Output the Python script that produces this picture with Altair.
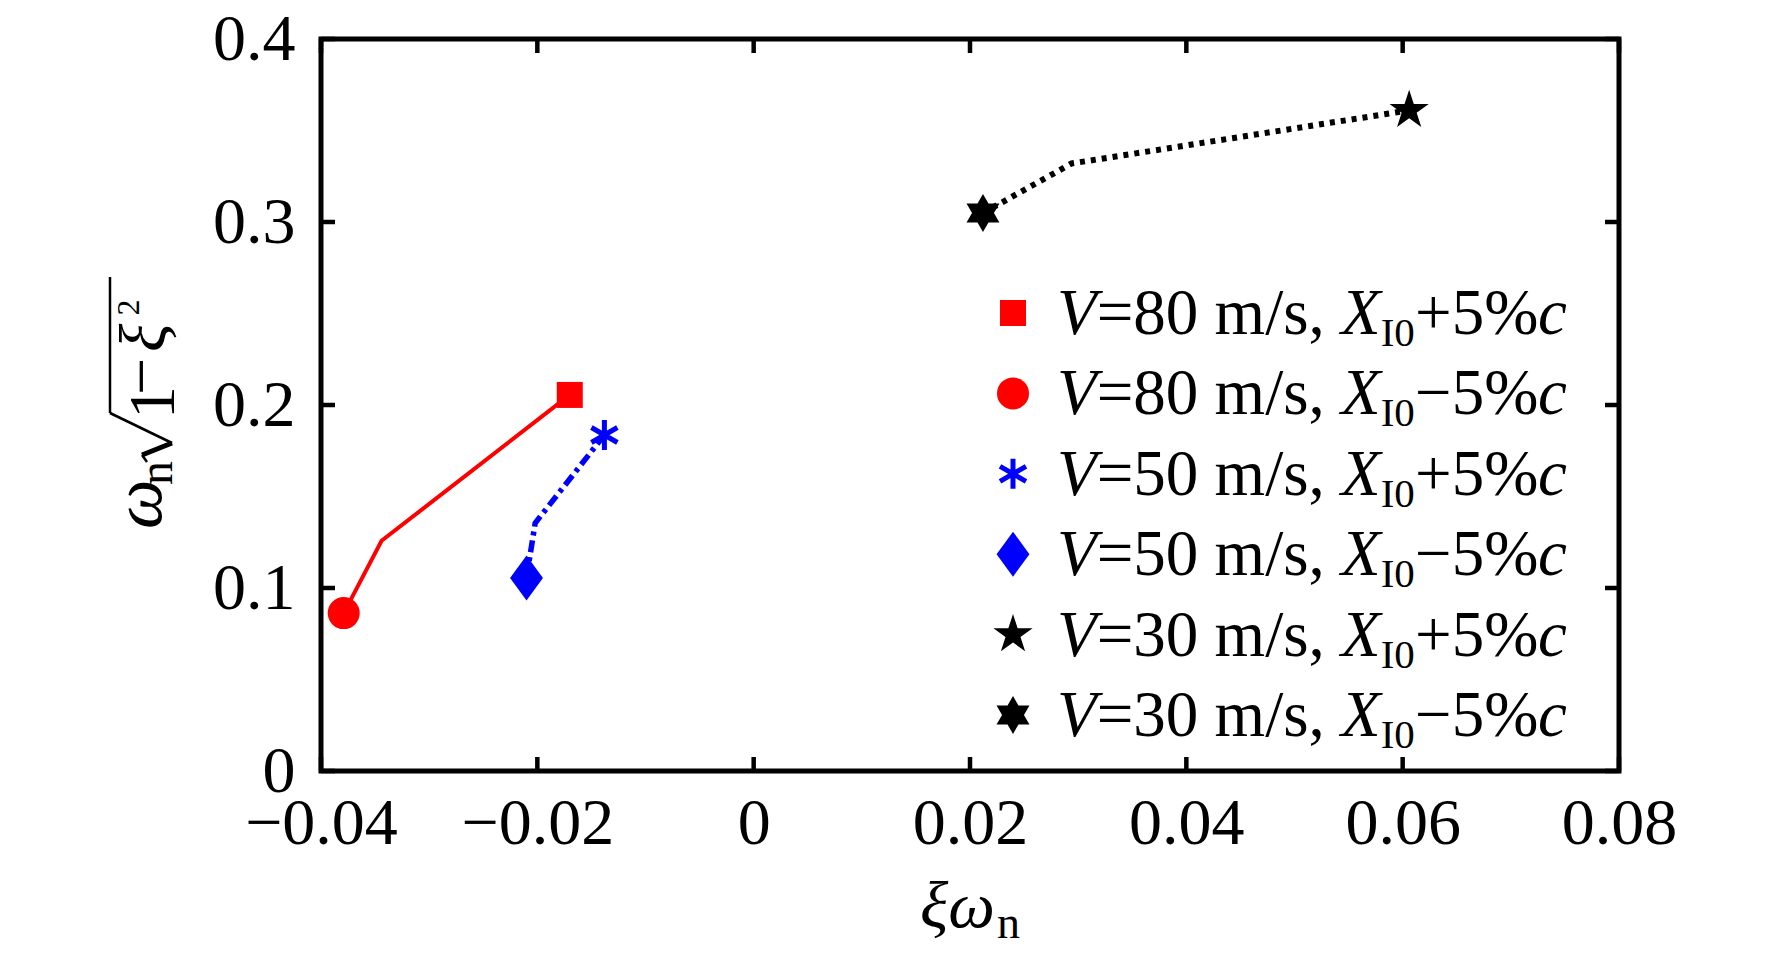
import math
import altair as alt
import pandas as pd

# ---------------- data ----------------
red_x = [-0.0379, -0.0344, -0.0170]     # V=80 m/s : X_I0-5%c  ->  X_I0+5%c
red_y = [0.0863, 0.1258, 0.2055]
blue_x = [-0.0210, -0.0202, -0.0138]    # V=50 m/s
blue_y = [0.1055, 0.1355, 0.1836]
black_x = [0.0212, 0.0294, 0.0606]      # V=30 m/s
black_y = [0.3049, 0.3320, 0.3610]

x_ticks = [-0.04, -0.02, 0, 0.02, 0.04, 0.06, 0.08]
y_ticks = [0, 0.1, 0.2, 0.3, 0.4]

legend_speed = ["80", "80", "50", "50", "30", "30"]
legend_sign = ["+", "\u2212", "+", "\u2212", "+", "\u2212"]

# ---------------- layout / style ----------------
W, H = 1298, 732
FONT = "Liberation Serif"
RED, BLUE, BLACK = "#ff0000", "#0000ff", "#000000"


def star_path(n, r_in):
    pts = []
    for k in range(2 * n):
        a = math.radians(-90 + k * 180.0 / n)
        r = 1.0 if k % 2 == 0 else r_in
        pts.append(f"{r * math.cos(a):.4f},{r * math.sin(a):.4f}")
    return "M" + "L".join(pts) + "Z"


PENT = star_path(5, 0.382)
HEXA = star_path(6, 0.577)
ASTER = "M0,-1L0,1M-0.866,-0.5L0.866,0.5M-0.866,0.5L0.866,-0.5"
DIAM = "M0,-1L0.73,0L0,1L-0.73,0Z"

xs = alt.Scale(domain=[-0.04, 0.08], nice=False, zero=False)
ys = alt.Scale(domain=[0, 0.4], nice=False, zero=False)
common_axis = dict(title=None, ticks=False, tickSize=0, domain=False, grid=False,
                   labelFont=FONT, labelFontSize=66, labelColor="black",
                   labelFlush=False, labelOverlap=False)
xaxis = alt.Axis(values=x_ticks, format=".2~f", labelPadding=20, **common_axis)
yaxis = alt.Axis(values=y_ticks, format=".1~f", labelPadding=26, **common_axis)


def X(f):
    return alt.X(f, type="quantitative", scale=xs, axis=xaxis)


def Y(f):
    return alt.Y(f, type="quantitative", scale=ys, axis=yaxis)


layers = []

# ---------------- lines ----------------
series = [
    (red_x, red_y, RED, None, 4),
    (blue_x, blue_y, BLUE, [12, 5, 4, 5], 5.5),
    (black_x, black_y, BLACK, [5, 6], 6),
]
for sx, sy, col, dash, sw in series:
    df = pd.DataFrame({"x": sx, "y": sy, "i": list(range(len(sx)))})
    kw = dict(color=col, strokeWidth=sw)
    if dash:
        kw["strokeDash"] = dash
    layers.append(alt.Chart(df).mark_line(**kw).encode(x=X("x"), y=Y("y"), order="i:Q"))

# ---------------- markers (endpoints of each series) ----------------
markers = [
    (red_x[-1], red_y[-1], "square", 676, RED, True),
    (red_x[0], red_y[0], "circle", 1024, RED, True),
    (blue_x[-1], blue_y[-1], ASTER, 900, BLUE, False),
    (blue_x[0], blue_y[0], DIAM, 2025, BLUE, True),
    (black_x[-1], black_y[-1], PENT, 1700, BLACK, True),
    (black_x[0], black_y[0], HEXA, 1444, BLACK, True),
]
for mx, my, shp, sz, col, fill in markers:
    df = pd.DataFrame({"x": [mx], "y": [my]})
    kw = dict(shape=shp, size=sz, color=col, filled=fill, opacity=1)
    if not fill:
        kw["strokeWidth"] = 5
    layers.append(alt.Chart(df).mark_point(**kw).encode(x=X("x"), y=Y("y")))

# ---------------- inward ticks on all four sides ----------------
TL = 14
xt = pd.DataFrame({"v": x_ticks})
yt = pd.DataFrame({"v": y_ticks})
layers.append(alt.Chart(xt).mark_rule(color="black", strokeWidth=4.5).encode(
    x=X("v"), y=alt.value(H - TL), y2=alt.value(H)))
layers.append(alt.Chart(xt).mark_rule(color="black", strokeWidth=4.5).encode(
    x=X("v"), y=alt.value(0), y2=alt.value(TL)))
layers.append(alt.Chart(yt).mark_rule(color="black", strokeWidth=4.5).encode(
    y=Y("v"), x=alt.value(0), x2=alt.value(TL)))
layers.append(alt.Chart(yt).mark_rule(color="black", strokeWidth=4.5).encode(
    y=Y("v"), x=alt.value(W - TL), x2=alt.value(W)))

dummy = pd.DataFrame({"d": [0]})


def txt(s, x, y, size=65, italic=False, angle=None):
    kw = dict(text=s, font=FONT, fontSize=size, align="left", baseline="alphabetic",
              color="black", fontStyle="italic" if italic else "normal")
    if angle is not None:
        kw["angle"] = angle
    return alt.Chart(dummy).mark_text(**kw).encode(x=alt.value(x), y=alt.value(y))


def seg(x1, y1, x2, y2, sw):
    return alt.Chart(dummy).mark_rule(color="black", strokeWidth=sw).encode(
        x=alt.value(x1), y=alt.value(y1), x2=alt.value(x2), y2=alt.value(y2))


# ---------------- legend ----------------
for i in range(6):
    yc = 274 + 80.4 * i
    _, _, shp, sz, col, fill = markers[i]
    kw = dict(shape=shp, size=sz, color=col, filled=fill, opacity=1)
    if not fill:
        kw["strokeWidth"] = 5
    layers.append(alt.Chart(dummy).mark_point(**kw).encode(x=alt.value(692), y=alt.value(yc)))
    yb = yc + 21
    layers.append(txt("V", 736, yb, italic=True))
    layers.append(txt(f"={legend_speed[i]} m/s, ", 775.7, yb))
    layers.append(txt("X", 1020, yb, italic=True))
    layers.append(txt("I0", 1059.7, yb + 12, size=41))
    layers.append(txt(f"{legend_sign[i]}5%", 1094, yb))
    layers.append(txt("c", 1217, yb, italic=True))

# ---------------- x title: ξω_n ----------------
layers.append(txt("\u03be\u03c9", 599, 888, size=66, italic=True))
layers.append(txt("n", 676, 899, size=46))

# ---------------- y title: ω_n sqrt(1 − ξ^2) (rotated) ----------------
layers.append(txt("\u03c9", -160, 490, size=70, italic=True, angle=270))
layers.append(txt("n", -149, 446, size=48, angle=270))
layers.append(seg(-211, 238, -211, 374, 2.5))
layers.append(seg(-211, 374, -149, 404, 2.5))
layers.append(seg(-149, 404, -179, 416, 5))
layers.append(seg(-179, 416, -174, 423, 2.5))
layers.append(txt("1", -147, 380, size=66, angle=270))
layers.append(txt("\u2212", -158, 356, size=66, angle=270))
layers.append(txt("\u03be", -156, 313, size=66, italic=True, angle=270))
layers.append(txt("2", -182, 276.5, size=32, angle=270))

chart = alt.layer(*layers).properties(
    width=W, height=H,
    autosize=alt.AutoSizeParams(type="none"),
    padding={"left": 313, "top": 31, "right": 145, "bottom": 181},
).configure_view(stroke="black", strokeWidth=5)

chart.save("out.html", embed_options={"renderer": "svg", "actions": False})
